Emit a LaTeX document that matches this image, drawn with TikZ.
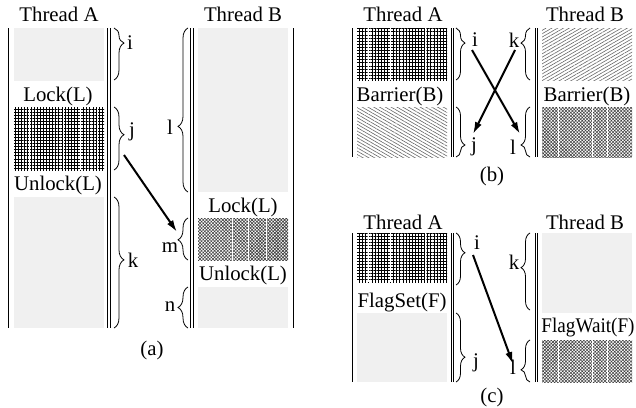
\documentclass[tikz,border=0pt]{standalone}
\usepackage{fontspec}
\setmainfont{Liberation Serif}
\usetikzlibrary{patterns.meta,decorations.pathreplacing,arrows.meta}
\begin{document}
\begin{tikzpicture}[x=0.5pt,y=-0.5pt,
  lbl/.style={inner sep=0pt, font=\fontsize{10.4}{12}\selectfont},
  tline/.style={line width=0.45pt},
  graybox/.style={fill=black!6},
  gridbox/.style={pattern={Hatch[angle=0,distance=1.55pt,line width=0.45pt]}},
  checkbox/.style={pattern={Hatch[angle=45,distance=1.15pt,line width=0.3pt]}, pattern color=black!75},
  hatchdown/.style={pattern={Lines[angle=-30,distance=1.45pt,line width=0.3pt]}, pattern color=black!60},
  hatchup/.style={pattern={Lines[angle=30,distance=1.45pt,line width=0.3pt]}, pattern color=black!60},
  brc/.style={decorate, decoration={brace, amplitude=5pt, aspect=#1}, line width=0.4pt},
  sbrc/.style={decorate, decoration={brace, amplitude=4.5pt, aspect=#1}, line width=0.4pt},
  arr/.style={line width=1pt, -{Latex[length=6pt,width=3.6pt]}},
  seam/.style={white, line width=0.5pt}
]
\useasboundingbox (0,0) rectangle (636,407);

% ================= (a) =================
\node[lbl] (aTA) at (59,14) {Thread A};
\node[lbl] (aTB) at (243,14) {Thread B};
\fill[graybox] (14,28) rectangle (104,81);
\fill[gridbox] (14,107) rectangle (104,170);
\foreach \x in {29,63,80,97} \draw[seam] (\x,107) -- (\x,170);
\fill[graybox] (14,197) rectangle (104,328);
\node[lbl] (aLockA) at (58,96) {Lock(L)};
\node[lbl] (aUnlockA) at (58,185) {Unlock(L)};
\draw[tline] (8,28) -- (8,328);
\draw[tline] (107,28) -- (107,328);
\draw[tline] (110,28) -- (110,328);

\fill[graybox] (198,28) rectangle (288,192);
\fill[checkbox] (198,218) rectangle (288,260);
\foreach \x in {232,248,266} \draw[seam] (\x,218) -- (\x,260);
\fill[graybox] (198,287) rectangle (288,328);
\node[lbl] (aLockB) at (243,207) {Lock(L)};
\node[lbl] (aUnlockB) at (243,275) {Unlock(L)};
\draw[tline] (190,28) -- (190,328);
\draw[tline] (193,28) -- (193,328);
\draw[tline] (293,28) -- (293,328);

\draw[brc=0.29] (114,28) -- (114,80);
\draw[brc=0.44] (114,107) -- (114,170);
\draw[brc=0.48] (114,197) -- (114,328);
\draw[brc=0.40] (188,192) -- (188,28);
\draw[brc=0.48] (188,260) -- (188,218);
\draw[brc=0.50] (188,328) -- (188,287);
\node[lbl] (ai) at (130,43) {i};
\node[lbl] (aj) at (132,132) {j};
\node[lbl] (ak) at (133,260) {k};
\node[lbl] (al) at (170,127) {l};
\node[lbl] (am) at (170,248) {m};
\node[lbl] (an) at (170,307) {n};
\coordinate (aS) at (124,155);
\coordinate (aE) at (177,232);
\draw[arr] (aS) -- (aE);
\node[lbl] (capa) at (152,350) {(a)};

% ================= (b) =================
\node[lbl] (bTA) at (403,14) {Thread A};
\node[lbl] (bTB) at (585,14) {Thread B};
\fill[gridbox] (357,28) rectangle (447,80);
\foreach \x in {368,390,425} \draw[seam] (\x,28) -- (\x,80);
\fill[hatchdown] (357,107) rectangle (447,157);
\node[lbl] (bBarA) at (400,96) {Barrier(B)};
\fill[hatchup] (542,28) rectangle (632,80);
\fill[checkbox] (542,107) rectangle (632,157);
\foreach \x in {558,592,607} \draw[seam] (\x,107) -- (\x,157);
\node[lbl] (bBarB) at (587,96) {Barrier(B)};
\draw[tline] (352,28) -- (352,157);
\draw[tline] (451,28) -- (451,157);
\draw[tline] (453.5,28) -- (453.5,157);
\draw[tline] (535,28) -- (535,157);
\draw[tline] (537.5,28) -- (537.5,157);

\draw[sbrc=0.29] (456,28) -- (456,80);
\draw[sbrc=0.76] (456,107) -- (456,157);
\draw[sbrc=0.71] (530,80) -- (530,28);
\draw[sbrc=0.24] (530,157) -- (530,107);
\node[lbl] (bi) at (475,40) {i};
\node[lbl] (bj) at (474,147) {j};
\node[lbl] (bk) at (514,40) {k};
\node[lbl] (bl) at (513,147) {l};
\coordinate (bS1) at (472,50);
\coordinate (bE1) at (520,134);
\coordinate (bS2) at (515,50);
\coordinate (bE2) at (473,134);
\draw[arr] (bS1) -- (bE1);
\draw[arr] (bS2) -- (bE2);
\node[lbl] (capb) at (492,176) {(b)};

% ================= (c) =================
\node[lbl] (cTA) at (403,222) {Thread A};
\node[lbl] (cTB) at (585,222) {Thread B};
\fill[gridbox] (357,233) rectangle (447,282);
\foreach \x in {368,390,425} \draw[seam] (\x,233) -- (\x,282);
\fill[graybox] (357,313) rectangle (447,382);
\node[lbl] (cSet) at (402,303) {FlagSet(F)};
\fill[graybox] (542,233) rectangle (632,313);
\fill[checkbox] (542,340) rectangle (632,382);
\foreach \x in {558,592,607} \draw[seam] (\x,340) -- (\x,382);
\node[lbl] (cWait) at (588,328) {\scalebox{0.92}[1]{FlagWait(F)}};
\draw[tline] (352,233) -- (352,382);
\draw[tline] (451,233) -- (451,382);
\draw[tline] (453.5,233) -- (453.5,382);
\draw[tline] (535,233) -- (535,382);
\draw[tline] (537.5,233) -- (537.5,382);

\draw[sbrc=0.38] (456,233) -- (456,285);
\draw[sbrc=0.64] (456,313) -- (456,382);
\draw[sbrc=0.55] (530,310) -- (530,233);
\draw[sbrc=0.29] (530,382) -- (530,340);
\node[lbl] (ci) at (477,243) {i};
\node[lbl] (cj) at (476,363) {j};
\node[lbl] (ck) at (514,262) {k};
\node[lbl] (cl) at (513,367) {l};
\coordinate (cS) at (473,255);
\coordinate (cE) at (513,364);
\draw[arr] (cS) -- (cE);
\node[lbl] (capc) at (492,397) {(c)};
\end{tikzpicture}
\end{document}
